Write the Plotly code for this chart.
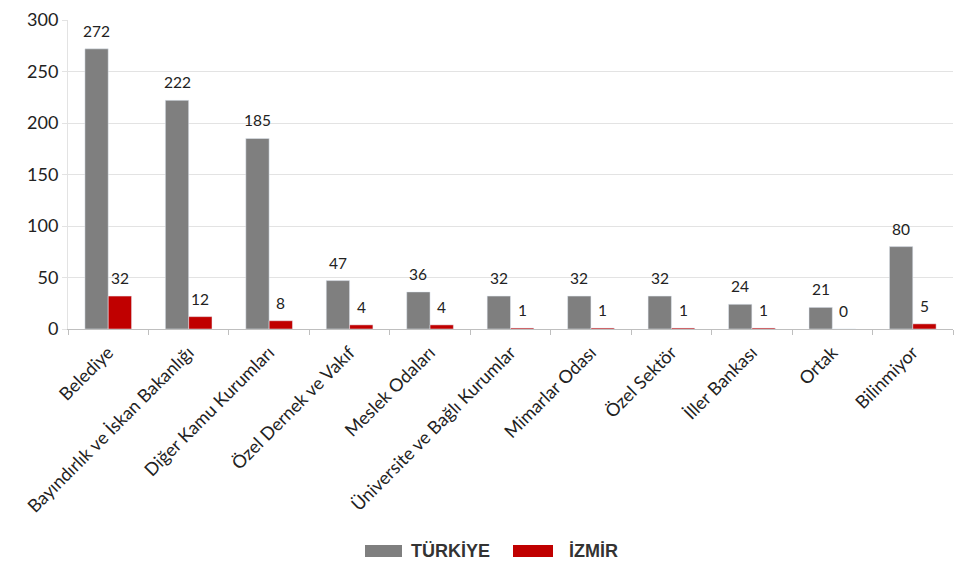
import plotly.graph_objects as go

categories = ["Belediye", "Bayındırlık ve İskan Bakanlığı", "Diğer Kamu Kurumları",
              "Özel Dernek ve Vakıf", "Meslek Odaları", "Üniversite ve Bağlı Kurumlar",
              "Mimarlar Odası", "Özel Sektör", "İller Bankası", "Ortak", "Bilinmiyor"]
turkiye = [272, 222, 185, 47, 36, 32, 32, 32, 24, 21, 80]
izmir = [32, 12, 8, 4, 4, 1, 1, 1, 1, 0, 5]
series_names = ["TÜRKİYE", "İZMİR"]
colors = ["#7f7f7f", "#c00000"]

L, R, T, B = 68, 13, 20, 238
W, H = 966, 567
pw, ph = W - L - R, H - T - B
bargap = 0.42
bar_px = pw / len(categories) * (1 - bargap) / 2

fig = go.Figure()
for name, vals, col in zip(series_names, [turkiye, izmir], colors):
    fig.add_trace(go.Bar(x=categories, y=vals, name=name, marker_color=col, showlegend=False))

# value labels placed via axis coordinates
annotations = []
for i, vals in enumerate([turkiye, izmir]):
    shift = (i - 0.5) * bar_px
    for c, v in zip(categories, vals):
        annotations.append(dict(x=c, y=v, xref="x", yref="y", text=str(v), showarrow=False,
                                yanchor="bottom", xanchor="center", xshift=shift, yshift=7,
                                font=dict(size=15.5, color="#222")))

# custom legend
def px2x(p):
    return (p - L) / pw

def py2y(p):
    return (T + ph - p) / ph

shapes = []
leg = [(365, 402, 410), (513, 553, 568)]
for (x0, x1, tx), name, col in zip(leg, series_names, colors):
    shapes.append(dict(type="rect", xref="paper", yref="paper", x0=px2x(x0), x1=px2x(x1),
                       y0=py2y(557), y1=py2y(545), fillcolor=col, line=dict(width=0)))
    annotations.append(dict(x=px2x(tx), y=py2y(551), xref="paper", yref="paper",
                            text="<b>" + name + "</b>", showarrow=False, xanchor="left",
                            yanchor="middle", borderpad=0,
                            font=dict(family="Liberation Sans, Arial", size=18, color="#333")))

fig.update_layout(
    width=W, height=H,
    margin=dict(l=L, r=R, t=T, b=B, autoexpand=False),
    plot_bgcolor="white", paper_bgcolor="white",
    barmode="group", bargap=bargap, bargroupgap=0,
    font=dict(family="Lato, Open Sans, sans-serif", size=14, color="#222"),
    showlegend=False,
    annotations=annotations, shapes=shapes,
    xaxis=dict(tickangle=-45, tickfont=dict(size=18, color="#222"), automargin=False,
               ticklabelstandoff=5,
               showline=True, linecolor="#bfbfbf", ticks="outside", tickson="boundaries",
               tickcolor="#bfbfbf", ticklen=5),
    yaxis=dict(range=[0, 300], dtick=50, showgrid=True, gridcolor="#e3e3e3", automargin=False,
               tickfont=dict(size=18, color="#222"), zeroline=False,
               showline=True, linecolor="#e3e3e3", ticks="outside", tickcolor="#e3e3e3", ticklen=5),
)
fig.write_html("out.html", config={"displayModeBar": False},
               post_script="document.body.style.margin='0';document.body.style.overflow='hidden';")
